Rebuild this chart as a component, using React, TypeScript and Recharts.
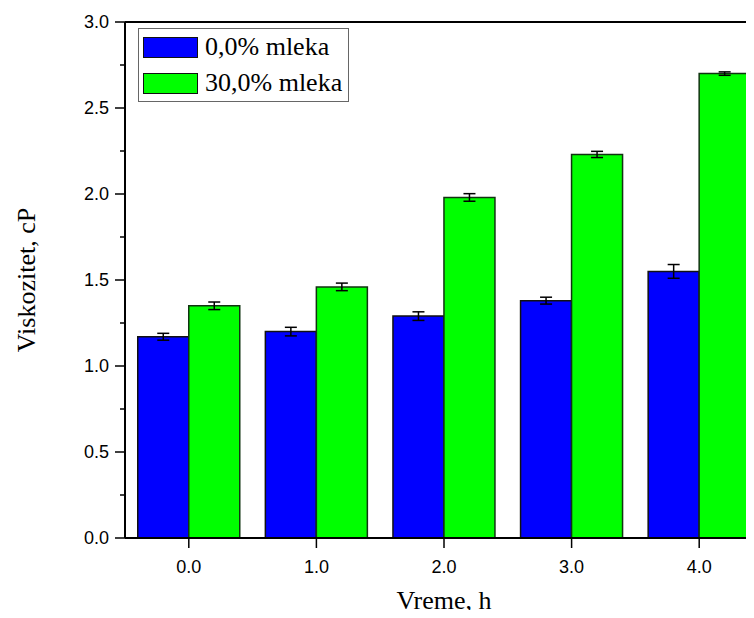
import {
  Bar,
  BarChart,
  ErrorBar,
  Legend,
  ReferenceLine,
  XAxis,
  YAxis,
} from "recharts";

const hours = ["0.0", "1.0", "2.0", "3.0", "4.0"];
const milk0 = [1.17, 1.2, 1.29, 1.38, 1.55];
const milk0Err = [0.02, 0.025, 0.025, 0.02, 0.04];
const milk30 = [1.35, 1.46, 1.98, 2.23, 2.7];
const milk30Err = [0.022, 0.022, 0.022, 0.018, 0.01];
const yTicks = [0, 0.25, 0.5, 0.75, 1, 1.25, 1.5, 1.75, 2, 2.25, 2.5, 2.75, 3];

const seriesNames = ["0,0% mleka", "30,0% mleka"];
const seriesColors = ["#0000ff", "#00ff00"];

const data = hours.map((h, i) => ({
  hour: h,
  a: milk0[i],
  aErr: milk0Err[i],
  b: milk30[i],
  bErr: milk30Err[i],
}));

const sans = "'Liberation Sans', Arial, sans-serif";
const serif = "'Liberation Serif', 'Times New Roman', serif";

// major ticks get a label, minor ones only a short mark
function YTick(props: any) {
  const { x, y, payload } = props;
  const v = payload.value as number;
  const major = Math.abs(v * 2 - Math.round(v * 2)) < 1e-6;
  return (
    <g>
      <line x1={x - (major ? 10 : 5)} x2={x} y1={y} y2={y} stroke="#000" strokeWidth={1.5} />
      {major && (
        <text x={x - 16} y={y} dy="0.35em" textAnchor="end" fontFamily={sans} fontSize={18} fill="#000">
          {v.toFixed(1)}
        </text>
      )}
    </g>
  );
}

function LegendBox() {
  return (
    <div
      style={{
        border: "1px solid #666",
        background: "#fff",
        padding: "0 6px 0 4px",
        fontFamily: serif,
        fontSize: 26,
        lineHeight: "36px",
      }}
    >
      {seriesNames.map((n, i) => (
        <div key={n} style={{ display: "flex", alignItems: "center", height: 36 }}>
          <span
            style={{
              width: 55,
              height: 21,
              background: seriesColors[i],
              border: "1.5px solid #111",
              boxSizing: "border-box",
              marginRight: 7,
              display: "inline-block",
            }}
          />
          <span>{n}</span>
        </div>
      ))}
    </div>
  );
}

export default function App() {
  return (
    <div style={{ margin: -8, width: 754, height: 618, overflow: "hidden", background: "#fff" }}>
      <BarChart
        width={770}
        height={618}
        data={data}
        margin={{ top: 22, right: 7, left: 0, bottom: 0 }}
        barCategoryGap="10%"
        barGap={0}
      >
        <XAxis
          dataKey="hour"
          height={80}
          stroke="#000"
          axisLine={{ strokeWidth: 2 }}
          tickLine={{ strokeWidth: 1.5 }}
          tickSize={10}
          tickMargin={12}
          tick={{ fontFamily: sans, fontSize: 18, fill: "#000" }}
          label={{
            value: "Vreme, h",
            position: "insideBottom",
            offset: 9,
            fontFamily: serif,
            fontSize: 26,
            fill: "#000",
          }}
        />
        <YAxis
          width={125}
          domain={[0, 3]}
          ticks={yTicks}
          interval={0}
          stroke="#000"
          axisLine={{ strokeWidth: 2 }}
          tickLine={false}
          tickSize={0}
          tickMargin={0}
          tick={<YTick />}
          label={{
            value: "Viskozitet, cP",
            angle: -90,
            position: "insideLeft",
            offset: 26,
            style: { textAnchor: "middle" },
            fontFamily: serif,
            fontSize: 26,
            fill: "#000",
          }}
        />
        <ReferenceLine y={3} stroke="#000" strokeWidth={2} />
        <Legend
          layout="vertical"
          align="center"
          verticalAlign="middle"
          content={<LegendBox />}
          wrapperStyle={{ left: 138, top: 28, width: "auto" }}
        />
        <Bar dataKey="a" name={seriesNames[0]} fill={seriesColors[0]} stroke="#111" strokeWidth={1.5} isAnimationActive={false}>
          <ErrorBar dataKey="aErr" width={6} stroke="#000" strokeWidth={1.5} direction="y" />
        </Bar>
        <Bar dataKey="b" name={seriesNames[1]} fill={seriesColors[1]} stroke="#113311" strokeWidth={1.5} isAnimationActive={false}>
          <ErrorBar dataKey="bErr" width={6} stroke="#000" strokeWidth={1.5} direction="y" />
        </Bar>
      </BarChart>
    </div>
  );
}
